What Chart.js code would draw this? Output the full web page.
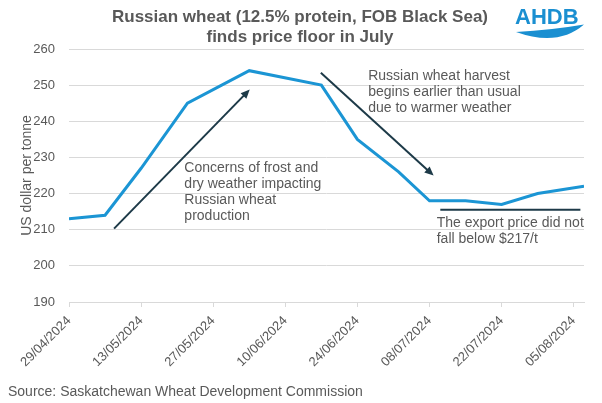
<!DOCTYPE html>
<html>
<head>
<meta charset="utf-8">
<script src="https://cdn.jsdelivr.net/npm/chart.js@4.4.1/dist/chart.umd.min.js"></script>
<style>
  html, body { margin: 0; padding: 0; background: #fff; }
  #wrap { width: 602px; height: 403px; position: relative; }
</style>
</head>
<body>
<div id="wrap"><canvas id="chart" width="602" height="403"></canvas></div>
<script>
// price points (dd/mm/yyyy) and US$/t
const dates = ["29/04/2024", "06/05/2024", "13/05/2024", "22/05/2024", "03/06/2024", "17/06/2024",
  "24/06/2024", "02/07/2024", "08/07/2024", "15/07/2024", "22/07/2024", "29/07/2024", "07/08/2024"];
const prices = [213, 214, 227, 245, 254, 250, 235, 226, 218, 218, 217, 220, 222];

const tickLabels = ["29/04/2024", "13/05/2024", "27/05/2024", "10/06/2024", "24/06/2024",
  "08/07/2024", "22/07/2024", "05/08/2024"];

const titleLines = ["Russian wheat (12.5% protein, FOB Black Sea)", "finds price floor in July"];
const yTitle = "US dollar per tonne";
const sourceText = "Source: Saskatchewan Wheat Development Commission";

// annotations, in chart units: [day since 29/04, US$/t]
const arrowUp = [[8.75, 210.3], [35.1, 248.8]];
const arrowDown = [[48.9, 253.4], [70.8, 225]];
const floorLine = [[72.1, 215.5], [99.3, 215.5]];
const notes = [
  { at: [22.4, 226.0], lines: ["Concerns of frost and", "dry weather impacting", "Russian wheat", "production"] },
  { at: [58.1, 251.4], lines: ["Russian wheat harvest", "begins earlier than usual", "due to warmer weather"] },
  { at: [71.4, 210.75], lines: ["The export price did not", "fall below $217/t"] }
];

const GREY = "#595959";
const BLUE = "#1b95d4";
const DARK = "#1d3a48";
const FONT = "'Liberation Sans', Arial, sans-serif";

function dayOf(s) {
  const [d, m, y] = s.split("/").map(Number);
  return Math.round((Date.UTC(y, m - 1, d) - Date.UTC(2024, 3, 29)) / 864e5);
}

function arrow(ctx, x0, y0, x1, y1) {
  const a = Math.atan2(y1 - y0, x1 - x0);
  const len = 9, w = 4;
  ctx.beginPath();
  ctx.moveTo(x0, y0);
  ctx.lineTo(x1 - Math.cos(a) * len * 0.8, y1 - Math.sin(a) * len * 0.8);
  ctx.stroke();
  ctx.beginPath();
  ctx.moveTo(x1, y1);
  ctx.lineTo(x1 - Math.cos(a) * len + Math.sin(a) * w, y1 - Math.sin(a) * len - Math.cos(a) * w);
  ctx.lineTo(x1 - Math.cos(a) * len - Math.sin(a) * w, y1 - Math.sin(a) * len + Math.cos(a) * w);
  ctx.closePath();
  ctx.fill();
}

const decor = {
  id: "decor",
  afterDatasetsDraw(chart) {
    const { ctx, scales: { x, y } } = chart;
    const px = p => [x.getPixelForValue(p[0]), y.getPixelForValue(p[1])];
    ctx.save();

    // arrows and floor line
    ctx.strokeStyle = DARK;
    ctx.fillStyle = DARK;
    ctx.lineWidth = 2;
    [arrowUp, arrowDown].forEach(seg => {
      const [a, b] = seg.map(px);
      arrow(ctx, a[0], a[1], b[0], b[1]);
    });
    const [f0, f1] = floorLine.map(px);
    ctx.beginPath();
    ctx.moveTo(f0[0], f0[1]);
    ctx.lineTo(f1[0], f1[1]);
    ctx.stroke();

    // notes
    ctx.fillStyle = GREY;
    ctx.font = "14px " + FONT;
    ctx.textAlign = "left";
    ctx.textBaseline = "alphabetic";
    notes.forEach(n => {
      const [tx, ty] = px(n.at);
      n.lines.forEach((l, i) => ctx.fillText(l, tx, ty + i * 16.2));
    });

    // title
    ctx.font = "bold 17px " + FONT;
    ctx.textAlign = "center";
    ctx.textBaseline = "middle";
    titleLines.forEach((l, i) => ctx.fillText(l, 300, 17 + i * 20));

    // source
    ctx.font = "14px " + FONT;
    ctx.textAlign = "left";
    ctx.fillText(sourceText, 8, 392);

    // AHDB logo
    ctx.fillStyle = "#1a8fd1";
    ctx.font = "bold 22px " + FONT;
    ctx.textBaseline = "alphabetic";
    ctx.fillText("AHDB", 515, 24);
    ctx.beginPath();
    ctx.moveTo(516, 32);
    ctx.quadraticCurveTo(552, 30, 584, 24.5);
    ctx.quadraticCurveTo(558, 47, 516, 32);
    ctx.closePath();
    ctx.fill();

    ctx.restore();
  }
};

new Chart(document.getElementById("chart"), {
  type: "line",
  data: {
    datasets: [{
      data: dates.map((d, i) => ({ x: dayOf(d), y: prices[i] })),
      borderColor: BLUE,
      borderWidth: 3,
      pointRadius: 0,
      tension: 0,
      fill: false
    }]
  },
  options: {
    responsive: false,
    animation: false,
    layout: { padding: { top: 49, right: 18, left: 0, bottom: 0 } },
    plugins: { legend: { display: false }, tooltip: { enabled: false } },
    scales: {
      x: {
        type: "linear",
        min: 0,
        max: 100,
        afterBuildTicks: s => { s.ticks = tickLabels.map(t => ({ value: dayOf(t) })); },
        afterFit: s => { s.height = 101; },
        ticks: {
          autoSkip: false,
          minRotation: 45,
          maxRotation: 45,
          padding: 6,
          color: GREY,
          font: { family: FONT, size: 13 },
          callback: v => tickLabels.find(t => dayOf(t) === v)
        },
        grid: { drawOnChartArea: false, tickLength: 5, color: "#d9d9d9" },
        border: { color: "#d9d9d9" }
      },
      y: {
        min: 190,
        max: 260,
        afterFit: s => { s.width = 69; },
        ticks: { stepSize: 10, padding: 14, color: GREY, font: { family: FONT, size: 13 } },
        grid: { color: "#d9d9d9", drawTicks: false },
        border: { display: false },
        title: {
          display: true,
          text: yTitle,
          color: GREY,
          font: { family: FONT, size: 14 },
          padding: { top: 19, bottom: 0 }
        }
      }
    }
  },
  plugins: [decor]
});
</script>
</body>
</html>
